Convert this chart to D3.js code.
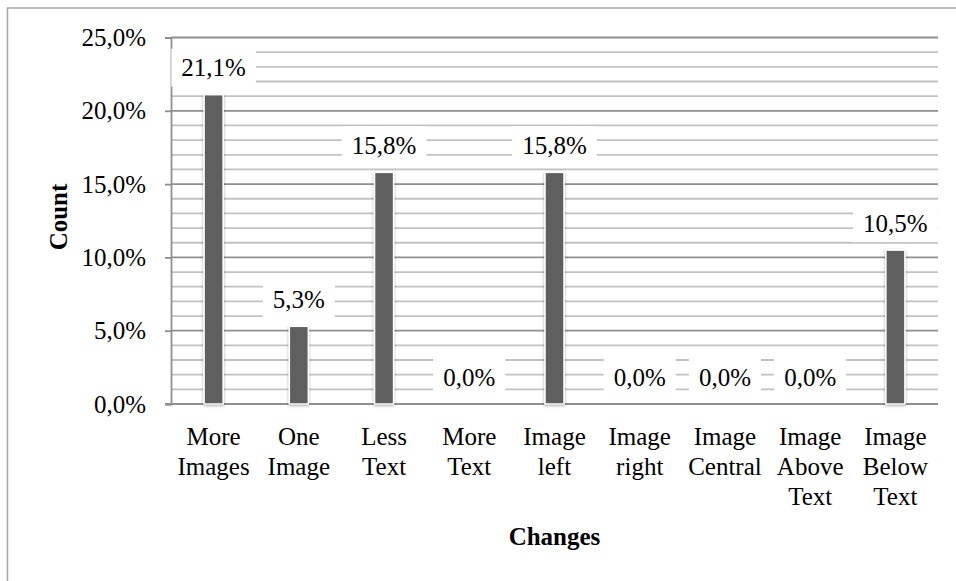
<!DOCTYPE html>
<html>
<head>
<meta charset="utf-8">
<script src="https://cdn.jsdelivr.net/npm/d3@7"></script>
<style>
  html, body { margin: 0; padding: 0; background: #fff; }
  svg { display: block; }
  text { font-family: "Liberation Serif", "Times New Roman", serif; fill: #000; }
</style>
</head>
<body>
<svg id="chart" width="956" height="581"></svg>
<script>
// Share of each kind of change
const categories = [
  "More Images", "One Image", "Less Text", "More Text", "Image left",
  "Image right", "Image Central", "Image Above Text", "Image Below Text"
];
const categoryLines = [
  ["More", "Images"], ["One", "Image"], ["Less", "Text"], ["More", "Text"],
  ["Image", "left"], ["Image", "right"], ["Image", "Central"],
  ["Image", "Above", "Text"], ["Image", "Below", "Text"]
];
const values = [21.1, 5.3, 15.8, 0.0, 15.8, 0.0, 0.0, 0.0, 10.5];
const yTicks = [0, 5, 10, 15, 20, 25];
const minorTicks = d3.range(1, 26);

const fmt = v => v.toFixed(1).replace(".", ",") + "%";
const FS = 25;

const svg = d3.select("#chart");
const plot = { left: 171, right: 938, top: 37.5, bottom: 404 };

// Outer chart frame
svg.append("rect")
  .attr("x", 7.5).attr("y", 8)
  .attr("width", 980).attr("height", 620)
  .attr("fill", "none").attr("stroke", "#a6a6a6").attr("stroke-width", 1.5);

const x = d3.scaleBand().domain(categories).range([plot.left, plot.right]).padding(0);
const y = d3.scaleLinear().domain([0, 25]).range([plot.bottom, plot.top]);

const defs = svg.append("defs");
const sh = defs.append("filter").attr("id", "barShadow")
  .attr("x", "-50%").attr("y", "-10%").attr("width", "200%").attr("height", "120%");
sh.append("feDropShadow").attr("dx", 0).attr("dy", 1).attr("stdDeviation", 1.6)
  .attr("flood-color", "#000").attr("flood-opacity", 0.35);

// Horizontal gridlines: light at every 1%, darker at every 5%
svg.append("g").selectAll("line")
  .data(minorTicks)
  .join("line")
  .attr("x1", plot.left).attr("x2", plot.right)
  .attr("y1", d => y(d)).attr("y2", d => y(d))
  .attr("stroke", d => d % 5 === 0 ? "#8f8f8f" : "#c2c2c2")
  .attr("stroke-width", 1.8);

// Left axis with percentage ticks
const yAxis = d3.axisLeft(y).tickValues(yTicks).tickSize(6).tickPadding(19).tickFormat(fmt);
const gy = svg.append("g").attr("transform", `translate(${plot.left},0)`).call(yAxis);
gy.select(".domain").attr("stroke", "#8f8f8f").attr("stroke-width", 1.8);
gy.selectAll(".tick line").attr("stroke", "#8f8f8f").attr("stroke-width", 1.8);
gy.selectAll(".tick text")
  .attr("font-family", "Liberation Serif, Times New Roman, serif")
  .attr("font-size", FS).attr("fill", "#000").attr("dy", "0.32em");

// Baseline
svg.append("line")
  .attr("x1", plot.left - 6).attr("x2", plot.right)
  .attr("y1", y(0)).attr("y2", y(0))
  .attr("stroke", "#8f8f8f").attr("stroke-width", 1.8);

// Value labels on white boxes
const labelOffset = 27;
const lg = svg.append("g");
values.forEach((v, i) => {
  const cx = x(categories[i]) + x.bandwidth() / 2;
  const cy = y(v) - labelOffset;
  const g = lg.append("g");
  const t = g.append("text")
    .attr("x", cx).attr("y", cy).attr("dy", "0.35em")
    .attr("text-anchor", "middle").attr("font-size", FS)
    .text(fmt(v));
  const w = t.node().getComputedTextLength();
  g.insert("rect", "text")
    .attr("x", cx - w / 2 - 10).attr("y", cy - 19)
    .attr("width", w + 20).attr("height", 38)
    .attr("fill", "#fff");
});

// Bars
const barW = 19;
svg.append("g").selectAll("rect")
  .data(values.map((v, i) => ({ c: categories[i], v })))
  .join("rect")
  .attr("x", d => x(d.c) + x.bandwidth() / 2 - barW / 2)
  .attr("y", d => y(d.v))
  .attr("width", barW)
  .attr("height", d => y(0) - y(d.v))
  .attr("fill", "#5f5f5f")
  .attr("stroke", "#fff").attr("stroke-width", 1.5)
  .attr("filter", "url(#barShadow)")
  .style("display", d => d.v > 0 ? null : "none");

// Category labels
const cg = svg.append("g");
categoryLines.forEach((lines, i) => {
  const t = cg.append("text")
    .attr("text-anchor", "middle").attr("font-size", FS);
  lines.forEach((ln, k) => {
    t.append("tspan")
      .attr("x", x(categories[i]) + x.bandwidth() / 2)
      .attr("y", 445 + k * 30)
      .text(ln);
  });
});

// Axis titles
svg.append("text")
  .attr("x", (plot.left + plot.right) / 2).attr("y", 545)
  .attr("text-anchor", "middle").attr("font-size", FS).attr("font-weight", "bold")
  .text("Changes");

svg.append("text")
  .attr("transform", `translate(67, 217) rotate(-90)`)
  .attr("text-anchor", "middle").attr("font-size", FS).attr("font-weight", "bold")
  .text("Count");
</script>
</body>
</html>
